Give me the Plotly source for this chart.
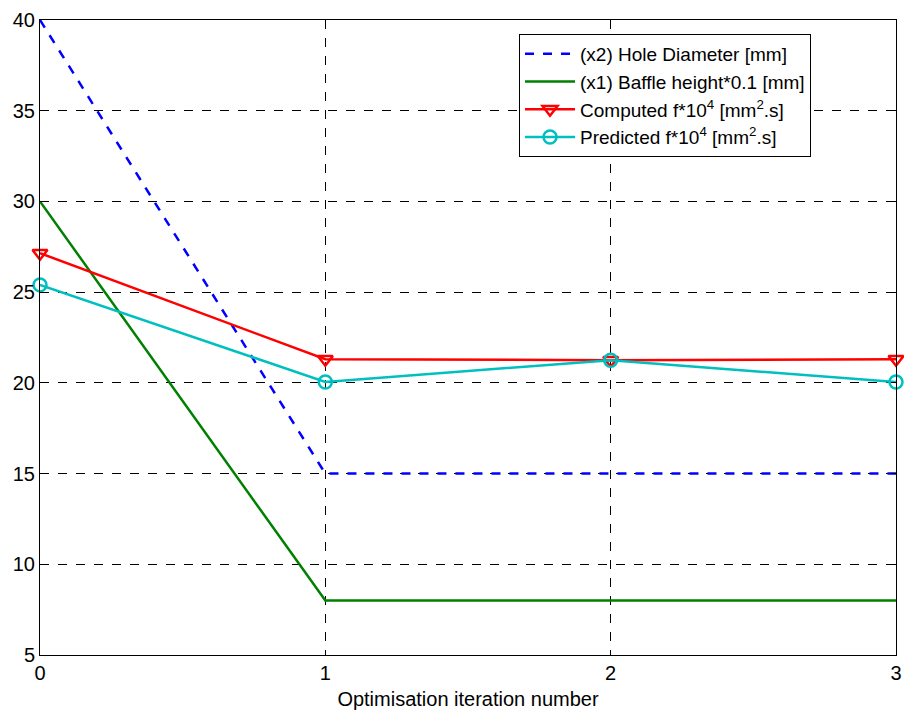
import plotly.graph_objects as go

iterations = [0, 1, 2, 3]
hole_diameter = [40, 15, 15, 15]
baffle_height = [30, 8, 8, 8]
computed_f = [27.15, 21.3, 21.25, 21.3]
predicted_f = [25.4, 20.05, 21.25, 20.05]

x_ticks = [0, 1, 2, 3]
y_ticks = [5, 10, 15, 20, 25, 30, 35, 40]

fig = go.Figure()
fig.add_trace(go.Scatter(x=iterations, y=hole_diameter, mode="lines",
                         name="(x2) Hole Diameter [mm]",
                         line=dict(color="#0000FF", width=2.5, dash="dash"), cliponaxis=False))
fig.add_trace(go.Scatter(x=iterations, y=baffle_height, mode="lines",
                         name="(x1) Baffle height*0.1 [mm]",
                         line=dict(color="#008000", width=2.5), cliponaxis=False))
fig.add_trace(go.Scatter(x=iterations, y=computed_f, mode="lines+markers",
                         name="Computed f*10<sup>4</sup> [mm<sup>2</sup>.s]",
                         line=dict(color="#FF0000", width=2.5),
                         marker=dict(symbol="triangle-down-open", size=13, color="#FF0000",
                                     line=dict(width=2.5, color="#FF0000")), cliponaxis=False))
fig.add_trace(go.Scatter(x=iterations, y=predicted_f, mode="lines+markers",
                         name="Predicted f*10<sup>4</sup> [mm<sup>2</sup>.s]",
                         line=dict(color="#00BFBF", width=2.5),
                         marker=dict(symbol="circle-open", size=13, color="#00BFBF",
                                     line=dict(width=2.5, color="#00BFBF")), cliponaxis=False))

axis_common = dict(showline=True, mirror="ticks", linecolor="black", linewidth=1,
                   ticks="inside", ticklen=5, tickcolor="black",
                   showgrid=True, gridcolor="black", gridwidth=1, griddash="dash",
                   zeroline=False, automargin=False, ticklabeloverflow="allow",
                   tickfont=dict(family="Liberation Sans, Arial", size=20, color="black"))

fig.update_layout(
    width=904, height=714,
    margin=dict(l=40, r=8, t=20, b=59),
    plot_bgcolor="white", paper_bgcolor="white",
    font=dict(family="Liberation Sans, Arial", size=20, color="black"),
    xaxis=dict(range=[0, 3], tickvals=x_ticks,
               title=dict(text="Optimisation iteration number", standoff=8,
                          font=dict(size=20, color="black")), **axis_common),
    yaxis=dict(range=[5, 40], tickvals=y_ticks, **axis_common),
    legend=dict(x=0.5596, y=0.978, xanchor="left", yanchor="top",
                bgcolor="white", bordercolor="black", borderwidth=1,
                font=dict(size=19, color="black"), tracegroupgap=0,
                itemwidth=50),
    showlegend=True,
)

fig.write_html("out.html")
